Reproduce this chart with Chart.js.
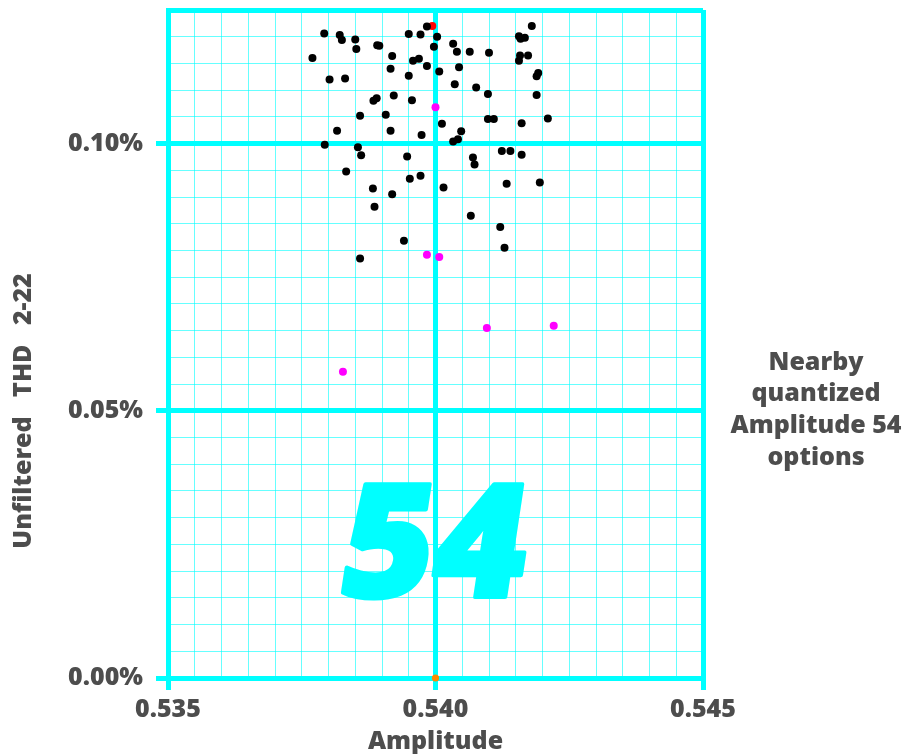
<!DOCTYPE html>
<html>
<head>
<meta charset="utf-8">
<script src="https://cdn.jsdelivr.net/npm/chart.js@4/dist/chart.umd.min.js"></script>
<style>
  html, body { margin: 0; padding: 0; background: #ffffff; }
  #wrap { width: 906px; height: 754px; }
</style>
</head>
<body>
<div id="wrap"><canvas id="c" width="906" height="754"></canvas></div>
<script>
// ---- data (x = amplitude, y = THD in percent) ----
const blackX = [0.53792,0.53821,0.53825,0.53850,0.53852,0.53891,0.53895,0.53919,0.53950,0.53972,
  0.53984,0.54003,0.53997,0.53770,0.53958,0.53969,0.53984,0.53916,0.53950,0.54007,
  0.53802,0.53831,0.53922,0.53884,0.53890,0.53956,0.53859,0.53907,0.54012,0.53816,
  0.53916,0.53974,0.54033,0.54040,0.54064,0.54100,0.54180,0.54156,0.54159,0.54167,
  0.54158,0.54156,0.54173,0.54044,0.54192,0.54189,0.54036,0.54076,0.54098,0.54189,
  0.54098,0.54109,0.54161,0.54210,0.54048,0.54042,0.54033,0.53793,0.53855,0.53861,
  0.53947,0.53833,0.53952,0.53972,0.53883,0.53919,0.53886,0.53941,0.53859,0.54124,
  0.54140,0.54161,0.54070,0.54073,0.54015,0.54133,0.54195,0.54066,0.54121,0.54129];
const blackY = [0.1206,0.1203,0.1194,0.1195,0.1177,0.1184,0.1183,0.1164,0.1205,0.1204,
  0.1219,0.1200,0.1181,0.1160,0.1155,0.1159,0.1145,0.1140,0.1127,0.1135,
  0.1120,0.1122,0.1090,0.1080,0.1085,0.1081,0.1052,0.1054,0.1037,0.1024,
  0.1024,0.1016,0.1187,0.1172,0.1172,0.1170,0.1220,0.1201,0.1196,0.1198,
  0.1165,0.1155,0.1165,0.1143,0.1132,0.1126,0.1111,0.1105,0.1093,0.1091,
  0.1046,0.1046,0.1038,0.1047,0.1023,0.1008,0.1004,0.0998,0.0993,0.0978,
  0.0976,0.0948,0.0934,0.0940,0.0916,0.0905,0.0882,0.0818,0.0785,0.0986,
  0.0986,0.0979,0.0974,0.0961,0.0918,0.0925,0.0927,0.0865,0.0844,0.0805];
const magentaX = [0.54000,0.53984,0.54007,0.54096,0.54221,0.53827];
const magentaY = [0.1068,0.0792,0.0788,0.0655,0.0659,0.0573];
const redX = [0.53994];
const redY = [0.1220];
const orangeX = [0.54000];
const orangeY = [0.0000];

const xTickLabels = ['0.535', '0.540', '0.545'];
const yTickLabels = ['0.00%', '0.05%', '0.10%'];
const xTitle = 'Amplitude';
const yTitle = 'Unfiltered   THD   2-22';
const sideNote = ['Nearby', 'quantized', 'Amplitude 54', 'options'];
const watermark = '54';

// ---- styling ----
const CYAN = '#00ffff';
const MINOR = 'rgba(0,255,255,0.6)';
const TEXT = '#4d4d4d';
const FONT = '"Open Sans", "DejaVu Sans", sans-serif';
const W = 800;

function pts(xs, ys) { return xs.map((x, i) => ({ x: x, y: ys[i] })); }

const isMajorX = v => Math.round(v * 10000) % 50 === 0;
const isMajorY = v => Math.round(v * 1000) % 50 === 0;

const decor = {
  id: 'decor',
  beforeDraw(chart) {
    const ctx = chart.ctx;
    ctx.save();
    ctx.font = '800 158px ' + FONT;
    ctx.fillStyle = CYAN;
    ctx.strokeStyle = CYAN;
    ctx.lineWidth = 4;
    ctx.lineJoin = 'round';
    ctx.textAlign = 'center';
    ctx.textBaseline = 'alphabetic';
    const cx = chart.scales.x.getPixelForValue(0.540);
    ctx.translate(cx, 597);
    ctx.transform(1, 0, -0.15, 1, 0, 0);
    ctx.fillText(watermark, -8, 0);
    ctx.strokeText(watermark, -8, 0);
    ctx.restore();
  },
  afterDraw(chart) {
    const ctx = chart.ctx;
    ctx.save();
    ctx.fillStyle = TEXT;
    ctx.font = W + ' 25px ' + FONT;
    ctx.textAlign = 'center';
    ctx.textBaseline = 'middle';
    const ys = [363, 394, 426, 458];
    sideNote.forEach((t, i) => ctx.fillText(t, 816, ys[i]));
    ctx.translate(24, 411);
    ctx.rotate(-Math.PI / 2);
    ctx.fillText(yTitle, 0, 0);
    ctx.restore();
  }
};

new Chart(document.getElementById('c'), {
  type: 'scatter',
  data: {
    datasets: [
      { data: pts(blackX, blackY), backgroundColor: '#000000', borderColor: '#000000', pointRadius: 4, borderWidth: 0 },
      { data: pts(magentaX, magentaY), backgroundColor: '#ff00ff', borderColor: '#ff00ff', pointRadius: 4, borderWidth: 0 },
      { data: pts(redX, redY), backgroundColor: '#ff0000', borderColor: '#ff0000', pointRadius: 4, borderWidth: 0 },
      { data: pts(orangeX, orangeY), backgroundColor: '#ff8800', borderColor: '#ff8800', pointRadius: 3.6, borderWidth: 0 }
    ]
  },
  options: {
    responsive: false,
    animation: false,
    clip: false,
    layout: { padding: { top: 10, right: 203, left: 0, bottom: 0 } },
    plugins: { legend: { display: false }, tooltip: { enabled: false } },
    scales: {
      x: {
        type: 'linear', min: 0.535, max: 0.545,
        afterFit: s => { s.height = 76; },
        ticks: {
          stepSize: 0.0005, maxTicksLimit: 1000, autoSkip: false, maxRotation: 0, padding: 5,
          color: TEXT, font: { family: FONT, size: 25, weight: W },
          callback: v => isMajorX(v) ? xTickLabels[Math.round((v - 0.535) / 0.005)] : ''
        },
        grid: {
          color: c => isMajorX(c.tick.value) ? CYAN : MINOR,
          lineWidth: c => isMajorX(c.tick.value) ? 5 : 1,
          tickColor: c => isMajorX(c.tick.value) ? CYAN : 'rgba(0,0,0,0)',
          tickWidth: c => isMajorX(c.tick.value) ? 5 : 0,
          tickLength: 12
        },
        border: { color: CYAN, width: 5 },
        title: { display: true, text: xTitle, color: TEXT, font: { family: FONT, size: 25, weight: W, lineHeight: 1 }, padding: 0 }
      },
      y: {
        type: 'linear', min: 0, max: 0.125,
        afterFit: s => { s.width = 168; s.paddingTop = 0; s.paddingBottom = 0; },
        ticks: {
          stepSize: 0.005, maxTicksLimit: 1000, autoSkip: false, padding: 13,
          color: TEXT, font: { family: FONT, size: 25, weight: W },
          callback: v => isMajorY(v) ? yTickLabels[Math.round(v / 0.05)] : ''
        },
        grid: {
          color: c => (isMajorY(c.tick.value) || c.index === c.scale.ticks.length - 1) ? CYAN : MINOR,
          lineWidth: c => (isMajorY(c.tick.value) || c.index === c.scale.ticks.length - 1) ? 5 : 1,
          tickColor: c => isMajorY(c.tick.value) ? CYAN : 'rgba(0,0,0,0)',
          tickWidth: c => isMajorY(c.tick.value) ? 5 : 0,
          tickLength: 12
        },
        border: { color: CYAN, width: 5 },
        title: { display: false }
      }
    }
  },
  plugins: [decor]
});
</script>
</body>
</html>
